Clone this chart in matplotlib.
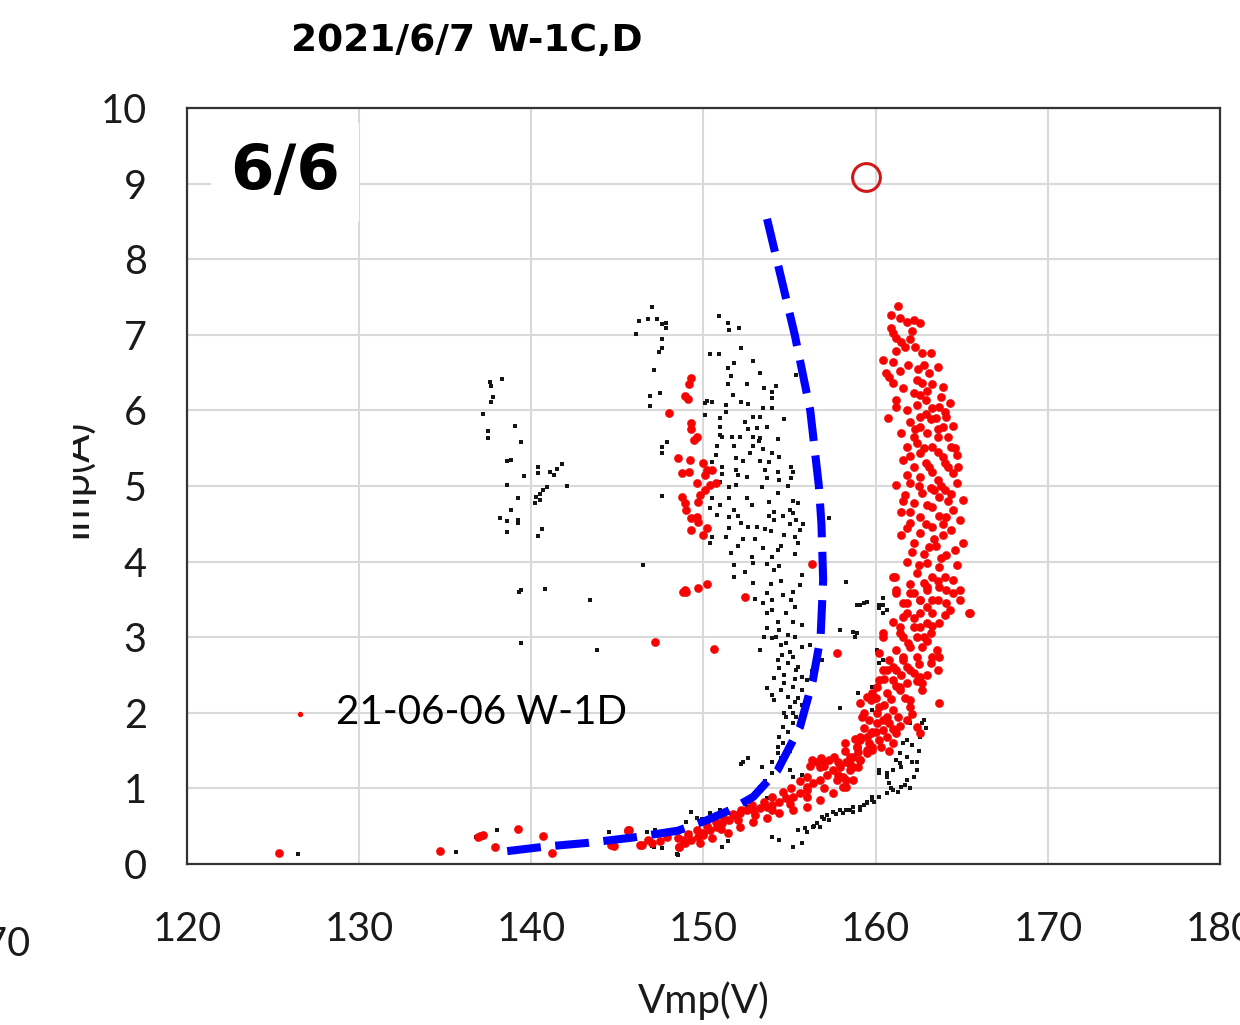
import matplotlib
matplotlib.use("Agg")
import matplotlib.pyplot as plt
from matplotlib.patches import Rectangle

# ---------------- data ----------------
title = "2021/6/7 W-1C,D"
panel_label = "6/6"
legend_label = "21-06-06 W-1D"
x_label = "Vmp(V)"
y_label = "Imp(A)"
x_ticks = [120, 130, 140, 150, 160, 170, 180]
y_ticks = [0, 1, 2, 3, 4, 5, 6, 7, 8, 9, 10]

black_pts = [
    # far-left cluster
    (137.6, 6.38), (138.3, 6.42), (137.65, 6.32), (137.8, 6.18), (137.65, 6.11), (137.2, 5.95),
    (139.05, 5.8), (137.5, 5.73), (137.5, 5.64), (139.4, 5.58), (138.6, 5.33), (138.8, 5.34),
    (140.4, 5.25), (140.4, 5.17), (141.1, 5.19), (141.5, 5.22), (141.8, 5.29), (141.3, 5.15),
    (139.6, 5.13), (142.07, 5.0), (138.6, 5.01), (140.9, 4.99), (140.7, 4.95), (140.5, 4.9),
    (140.3, 4.86), (140.5, 4.81), (140.2, 4.78), (139.2, 4.84), (138.8, 4.68), (138.2, 4.58),
    (138.6, 4.54), (139.2, 4.55), (139.2, 4.51), (138.6, 4.39), (140.6, 4.43), (140.4, 4.34),
    (139.3, 3.6), (139.4, 3.62), (140.8, 3.64), (139.4, 2.92), (143.4, 3.49), (143.8, 2.83),
    (146.5, 3.96),
    # cluster near 147 V
    (147.0, 7.37), (146.25, 7.18), (146.8, 7.21), (147.3, 7.21), (147.6, 7.14), (147.8, 7.09),
    (147.8, 7.15), (146.1, 7.01), (147.6, 6.94), (147.6, 6.83), (147.4, 6.77), (147.1, 6.53),
    (146.9, 6.19), (147.5, 6.23), (146.9, 6.06), (147.6, 5.52), (147.9, 5.58), (147.6, 5.43),
    (147.6, 4.87),
    # main cloud upper
    (150.9, 7.25), (151.5, 7.06), (152.05, 7.09), (151.4, 7.15), (150.4, 6.75), (150.9, 6.75),
    (152.2, 6.83), (152.9, 6.65), (151.8, 6.63), (151.4, 6.56), (151.6, 6.46), (153.3, 6.49),
    (155.4, 6.47), (151.4, 6.35), (152.5, 6.35), (154.2, 6.32), (154.0, 6.24), (154.0, 6.16),
    (150.1, 6.1), (150.2, 6.13), (150.5, 6.11), (152.2, 6.11), (152.6, 6.08), (151.3, 6.07),
    (151.3, 5.98), (153.45, 6.03), (154.0, 6.03), (150.95, 5.9), (152.9, 5.91), (153.3, 5.91),
    (150.1, 5.94), (154.7, 5.89), (150.95, 5.78), (153.1, 5.77), (153.7, 5.78), (152.6, 5.75),
    (150.95, 5.67), (152.9, 5.65), (151.65, 5.65), (152.1, 5.65), (151.05, 5.65), (153.3, 5.63),
    (154.3, 5.62), (150.8, 5.53), (151.8, 5.53), (152.9, 5.53), (153.45, 5.49), (154.0, 5.44),
    (152.7, 5.44), (154.4, 5.38), (150.7, 5.41), (151.9, 5.37), (152.3, 5.33), (150.5, 5.32),
    (153.3, 5.33), (153.8, 5.32), (151.1, 5.25), (155.1, 5.25), (151.9, 5.21), (153.6, 5.21),
    (154.3, 5.19), (155.2, 5.19), (151.1, 5.16), (152.0, 5.15), (152.5, 5.12), (153.7, 5.11),
    (154.4, 5.08), (155.1, 5.11), (150.95, 5.05), (151.9, 5.01), (151.5, 4.99), (153.4, 4.99),
    (154.3, 4.91), (150.5, 4.84), (151.5, 4.84), (152.5, 4.84), (153.8, 4.79), (155.5, 4.78),
    (150.95, 4.75), (150.4, 4.71), (151.8, 4.68), (154.1, 4.66), (155.2, 4.64), (155.0, 4.68),
    (150.8, 4.62), (151.5, 4.59), (154.1, 4.55), (152.2, 4.51), (156.76, 4.55), (157.3, 4.58),
    (152.6, 4.46), (153.1, 4.46), (151.5, 4.44), (153.6, 4.43), (155.6, 4.42), (155.3, 4.33),
    (154.7, 4.35), (150.5, 4.33), (151.3, 4.33), (152.3, 4.30), (155.5, 4.25), (150.4, 4.25),
    (153.45, 4.18), (154.3, 4.15), (151.6, 4.11), (152.8, 4.06), (154.0, 4.06), (151.8, 3.96),
    (152.4, 3.86), (152.9, 3.98), (153.7, 3.97), (154.1, 3.89), (154.4, 3.94), (151.8, 3.80),
    (152.9, 3.72), (155.7, 3.82), (155.6, 3.69), (158.3, 3.73),
    (155.0, 4.5), (155.4, 4.55), (154.6, 4.6), (153.9, 4.4), (152.0, 4.2), (153.0, 4.3),
    (155.2, 4.8), (154.9, 5.0), (153.2, 5.6), (152.4, 5.85), (151.7, 6.2), (153.5, 6.3),
    (152.0, 4.6), (152.8, 4.75), (154.5, 4.2), (155.8, 4.5), (155.3, 4.1), (153.8, 4.6),
    # main cloud lower
    (153.7, 3.58), (154.0, 3.49), (154.6, 3.56), (153.45, 3.45), (155.1, 3.49), (154.0, 3.36),
    (154.8, 3.32), (153.7, 3.32), (154.3, 3.2), (155.2, 3.2), (155.7, 3.16), (153.7, 3.12),
    (154.4, 3.1), (154.9, 3.03), (154.0, 2.99), (154.8, 2.92), (155.7, 2.87), (153.3, 2.83),
    (154.55, 2.76), (155.2, 2.74), (154.9, 2.66), (156.9, 2.70), (156.6, 2.63), (154.4, 2.59),
    (155.4, 2.57), (154.7, 2.50), (155.7, 2.47), (156.0, 2.43), (154.1, 2.46), (153.7, 2.33),
    (155.2, 2.34), (155.7, 2.30), (154.0, 2.24), (154.9, 2.21), (155.3, 2.14), (154.1, 2.17),
    (155.0, 2.08), (155.7, 2.10), (154.8, 1.94), (155.2, 2.0), (154.6, 1.81), (155.2, 1.86),
    (154.4, 1.68), (154.3, 1.55), (154.3, 1.47), (154.0, 1.35), (152.3, 1.35), (152.2, 1.32),
    (153.4, 1.28), (155.7, 1.18), (155.2, 1.15), (156.76, 1.11), (153.3, 1.02), (153.0, 0.94),
    (153.7, 0.87), (152.5, 0.75), (150.95, 0.71), (151.4, 0.67), (150.4, 0.67), (149.3, 0.69),
    (149.6, 0.61), (149.9, 0.6), (149.2, 0.41), (148.6, 0.36), (147.5, 0.28), (147.1, 0.22),
    (148.5, 0.12), (151.1, 0.22), (151.4, 0.3), (154.0, 0.36), (154.4, 0.32), (155.2, 0.22),
    (155.7, 0.28), (155.9, 0.48), (156.35, 0.49), (156.76, 0.49), (156.9, 0.62), (157.2, 0.65),
    (157.5, 0.69), (157.9, 0.71), (158.3, 0.71), (158.7, 0.75), (159.1, 0.75), (159.5, 0.82),
    (159.8, 0.85), (160.2, 0.89), (160.65, 0.94), (161.0, 0.98), (156.0, 0.42), (156.6, 0.54),
    (157.3, 0.58),
    (154.2, 3.0), (154.5, 2.9), (155.0, 2.8), (154.3, 2.7), (155.5, 2.6), (154.7, 2.4),
    (155.3, 2.45), (154.5, 2.3), (155.5, 2.2), (154.7, 2.0), (155.4, 1.95), (154.9, 1.75),
    (154.6, 1.6), (155.0, 1.5), (154.5, 1.4), (154.0, 1.2), (153.6, 1.1), (155.3, 3.4),
    (153.9, 3.7), (154.5, 3.75), (155.2, 3.6), (153.0, 3.5), (153.5, 3.0), (155.3, 3.0),
    (156.2, 2.9), (156.3, 2.55), (155.9, 2.0), (155.0, 1.25), (152.6, 1.4), (149.0, 0.55),
    # right-hand black band
    (159.1, 3.43), (159.5, 3.47), (160.2, 3.43), (158.9, 3.06), (157.9, 3.1), (160.1, 2.83),
    (160.2, 2.66), (160.65, 3.36), (158.97, 2.26), (157.9, 2.06), (160.65, 1.2), (160.2, 1.24),
    (158.9, 3.43), (159.3, 3.45), (160.4, 3.43), (160.4, 3.32), (158.7, 3.07), (158.8, 3.0),
    (160.1, 2.83), (160.4, 2.70), (159.8, 2.34), (159.8, 2.04), (162.0, 1.86), (162.7, 1.86),
    (162.6, 1.68), (161.8, 1.64), (162.1, 1.57), (161.4, 1.47), (161.8, 1.42), (161.2, 1.38),
    (162.1, 1.35), (161.5, 1.28), (162.4, 1.24), (160.2, 1.2), (160.65, 1.15), (161.8, 1.11),
    (160.8, 1.07), (161.5, 1.02), (162.0, 1.0), (160.65, 0.94), (159.8, 0.89), (159.5, 0.81),
    (159.1, 0.71), (158.7, 0.69), (158.1, 0.67), (160.4, 3.52), (160.2, 3.38),
    (161.3, 0.95), (161.7, 1.05), (162.2, 1.15), (162.4, 1.35), (162.5, 1.5), (162.9, 1.8),
    (162.8, 1.9), (161.6, 1.6), (161.0, 1.25), (161.4, 1.33), (160.9, 1.0), (159.9, 0.82),
    (159.3, 0.78), (158.5, 0.72), (157.7, 0.66), (157.0, 0.6), (156.4, 0.5), (155.5, 0.45),
    # bottom strays
    (126.45, 0.13), (135.6, 0.16), (138.0, 0.45), (136.8, 0.36), (144.5, 0.42), (146.7, 0.42),
    (147.2, 0.45), (149.3, 0.69), (147.0, 0.24), (147.6, 0.21), (148.45, 0.13),
]

red_pts = [
    # cluster near 149-150 V
    (149.3, 6.43), (149.15, 6.35), (148.9, 6.19), (149.1, 6.15), (148.0, 5.97), (149.3, 5.83),
    (149.3, 5.75), (149.6, 5.65), (149.45, 5.61), (148.5, 5.37), (149.2, 5.34), (149.97, 5.3),
    (150.2, 5.21), (148.75, 5.17), (149.15, 5.19), (150.1, 5.15), (150.5, 5.21), (149.6, 5.04),
    (150.4, 5.01), (150.7, 5.04), (150.1, 4.95), (149.8, 4.88), (148.75, 4.85), (148.9, 4.78),
    (149.7, 4.79), (149.0, 4.68), (149.6, 4.59), (149.3, 4.58), (149.7, 4.52), (150.2, 4.44),
    (149.3, 4.42), (149.97, 4.35), (156.3, 3.97),
    (148.8, 3.6), (149.0, 3.6), (148.9, 3.62), (149.7, 3.65), (150.2, 3.7), (152.4, 3.53),
    (147.2, 2.94), (150.6, 2.84), (157.75, 2.79),
    # bottom-left strays
    (125.35, 0.14), (134.7, 0.17), (137.2, 0.38), (137.0, 0.37), (136.9, 0.36), (137.9, 0.23),
    (139.2, 0.46), (140.7, 0.37), (141.2, 0.15), (145.6, 0.44), (144.6, 0.25), (144.8, 0.24),
    (146.4, 0.25), (148.6, 0.22), (148.8, 0.32),
    # lower curved band
    (145.7, 0.45), (146.3, 0.25), (147.0, 0.28), (147.9, 0.36), (148.6, 0.22), (148.9, 0.28),
    (149.3, 0.32), (149.7, 0.36), (149.97, 0.41), (150.4, 0.45), (150.8, 0.49), (151.1, 0.54),
    (151.5, 0.58), (151.8, 0.65), (152.1, 0.67), (152.5, 0.71), (152.9, 0.71), (153.3, 0.74),
    (153.7, 0.75), (154.0, 0.78), (154.4, 0.82), (154.8, 0.87), (155.2, 0.89), (155.6, 0.94),
    (156.0, 0.98), (156.35, 1.07), (156.76, 1.11), (157.2, 1.18), (157.5, 1.24), (157.9, 1.28),
    (158.3, 1.35), (158.7, 1.42), (158.9, 1.55), (159.1, 1.64), (159.5, 1.68), (159.8, 1.75),
    (156.3, 1.38), (156.6, 1.35), (156.9, 1.35), (156.76, 1.28), (156.0, 1.02), (157.75, 1.11),
    (158.1, 1.15), (158.5, 1.24), (158.97, 1.28), (159.1, 1.38), (159.5, 1.51), (159.8, 1.55),
    (158.7, 1.11), (158.3, 1.02), (157.5, 0.94), (156.76, 0.85), (156.0, 0.75), (155.2, 0.71),
    (154.4, 0.67), (153.7, 0.61), (152.9, 0.56), (152.1, 0.49), (151.4, 0.41), (150.5, 0.34),
    (149.8, 0.28), (145.6, 0.45), (150.0, 0.38), (151.0, 0.46), (152.0, 0.58), (153.0, 0.65),
    (154.0, 0.71), (155.0, 0.8), (156.0, 0.88), (157.0, 1.0), (157.8, 1.18), (158.5, 1.32),
    (156.2, 1.3), (156.8, 1.4), (157.3, 1.38), (156.0, 1.15), (155.6, 1.1), (155.1, 1.0),
    (154.6, 0.95), (154.0, 0.88), (153.5, 0.82), (152.8, 0.78), (152.2, 0.72), (151.7, 0.66),
    (151.2, 0.6), (150.7, 0.55), (150.2, 0.5), (149.6, 0.45), (149.1, 0.4), (148.5, 0.35),
    (147.5, 0.3), (146.8, 0.32), (157.0, 1.3), (157.8, 1.35), (158.2, 1.5), (157.6, 1.42),
    # rising band
    (158.3, 1.11), (158.1, 1.02), (158.7, 1.28), (159.1, 1.38), (158.5, 1.42), (159.5, 1.47),
    (158.9, 1.55), (159.8, 1.51), (159.1, 1.68), (159.7, 1.73), (160.2, 1.64), (160.65, 1.68),
    (161.0, 1.6), (160.4, 1.77), (161.2, 1.73), (160.1, 1.86), (160.8, 1.86), (161.4, 1.82),
    (159.3, 2.0), (160.1, 2.0), (160.65, 1.94), (161.8, 1.9), (162.4, 1.81), (162.6, 1.73),
    (159.1, 2.13), (159.7, 2.17), (160.2, 2.08), (161.0, 2.04), (162.0, 2.08), (159.8, 2.26),
    (160.65, 2.26), (161.4, 2.30), (162.0, 2.17), (160.2, 2.43), (161.0, 2.43), (161.8, 2.39),
    (162.7, 2.30), (163.7, 2.13), (160.4, 2.57), (161.2, 2.57), (162.0, 2.57), (162.6, 2.47),
    (160.8, 2.70), (161.6, 2.70), (162.4, 2.74), (163.2, 2.66), (163.7, 2.74), (161.2, 2.83),
    (162.0, 2.87), (162.7, 2.87), (163.55, 2.83), (161.6, 3.0), (162.4, 3.0), (163.2, 3.06),
    (161.4, 3.13), (162.2, 3.13), (163.0, 3.19), (163.7, 3.19), (161.6, 3.27), (162.6, 3.32),
    (163.3, 3.32), (161.8, 3.45), (162.6, 3.49), (163.3, 3.49), (164.1, 3.45), (162.2, 3.58),
    (163.0, 3.62), (163.7, 3.66), (164.5, 3.58), (164.9, 3.49), (165.5, 3.32), (161.2, 3.62),
    (160.4, 3.06), (160.2, 2.79), (161.6, 2.74), (163.3, 2.74), (160.65, 2.57), (162.2, 2.53),
    (163.6, 2.57), (160.1, 2.34), (161.4, 2.34), (162.7, 2.39), (159.5, 2.21),
    (161.0, 3.2), (162.8, 3.0), (161.9, 2.92), (163.0, 2.95), (161.0, 2.6), (161.8, 2.6),
    (162.5, 2.65), (160.5, 2.45), (161.5, 2.5), (162.4, 2.42), (160.0, 2.2), (160.9, 2.18),
    (161.7, 2.2), (160.5, 2.1), (161.3, 1.95), (162.1, 1.98), (159.6, 1.9), (160.4, 1.9),
    (159.3, 1.8), (160.0, 1.75), (161.0, 1.78), (158.8, 1.65), (159.6, 1.6), (158.2, 1.6),
    (159.0, 1.48), (160.3, 1.55), (160.8, 1.5), (159.2, 1.95), (161.2, 2.35), (163.0, 2.5),
    # upper column
    (161.3, 7.38), (160.9, 7.26), (161.4, 7.22), (161.8, 7.17), (162.2, 7.2), (162.6, 7.16),
    (160.9, 7.09), (161.0, 7.02), (161.2, 6.96), (161.7, 6.84), (162.3, 6.84), (161.2, 6.79),
    (162.7, 6.76), (163.2, 6.76), (160.4, 6.67), (161.0, 6.64), (161.4, 6.52), (162.45, 6.55),
    (163.6, 6.57), (160.6, 6.49), (160.8, 6.44), (161.0, 6.36), (162.7, 6.36), (163.9, 6.31),
    (162.2, 6.23), (162.6, 6.2), (162.9, 6.14), (161.2, 6.14), (163.8, 6.18), (161.2, 6.05),
    (162.4, 6.07), (163.3, 6.03), (164.0, 5.98), (160.7, 5.9), (162.6, 5.91), (163.2, 5.88),
    (164.1, 5.91), (162.6, 5.78), (163.9, 5.78), (163.0, 5.7), (163.6, 5.65), (164.2, 5.65),
    (161.8, 5.52), (162.4, 5.57), (163.3, 5.52), (164.4, 5.52), (161.6, 5.34), (162.6, 5.44),
    (163.9, 5.38), (164.7, 5.41), (162.2, 5.25), (163.1, 5.25), (164.2, 5.25), (162.6, 5.12),
    (163.6, 5.08), (164.5, 5.17), (161.2, 5.01), (162.0, 5.04), (164.7, 5.04), (161.7, 4.88),
    (162.7, 4.91), (163.7, 4.85), (165.1, 4.81), (162.2, 4.78), (163.3, 4.72), (164.5, 4.68),
    (161.5, 4.66), (162.6, 4.59), (164.1, 4.59), (164.9, 4.55), (162.0, 4.51), (163.3, 4.46),
    (161.5, 4.35), (162.6, 4.38), (163.9, 4.35), (165.1, 4.25), (162.2, 4.25), (163.1, 4.19),
    (162.1, 4.13), (164.1, 4.09), (163.0, 3.98), (163.7, 3.93), (164.7, 3.96), (161.1, 3.8),
    (162.4, 3.85), (163.3, 3.8), (164.5, 3.76), (161.2, 3.58), (162.0, 3.58), (163.0, 3.66),
    (164.1, 3.62), (164.9, 3.62), (165.4, 3.32), (162.6, 3.49), (163.6, 3.49), (161.8, 3.32),
    (164.3, 3.36), (160.4, 3.0), (161.4, 3.06), (162.6, 3.13), (161.0, 3.8), (163.8, 5.0),
    (163.4, 4.95), (162.9, 5.3), (163.5, 5.9), (162.3, 5.75), (163.9, 4.5), (163.5, 4.2),
    (161.5, 6.9), (162.0, 6.95), (161.9, 6.6), (162.8, 6.6), (161.6, 6.3), (162.4, 6.4),
    (163.3, 6.35), (161.8, 6.0), (163.0, 6.25), (163.7, 6.05), (162.0, 5.85), (162.9, 5.95),
    (163.6, 5.75), (164.5, 5.8), (161.5, 5.7), (162.2, 5.65), (162.8, 5.5), (163.6, 5.45),
    (162.0, 5.4), (164.0, 5.3), (161.8, 5.15), (163.3, 5.18), (164.8, 5.25), (162.5, 5.0),
    (163.2, 4.98), (164.0, 4.95), (161.6, 4.8), (163.0, 4.75), (164.2, 4.8), (162.0, 4.65),
    (163.7, 4.6), (162.9, 4.5), (164.4, 4.42), (161.8, 4.45), (163.4, 4.3), (162.8, 4.1),
    (163.8, 4.05), (164.6, 4.15), (161.8, 4.0), (162.5, 3.95), (163.6, 3.75), (162.0, 3.7),
    (162.8, 3.72), (164.0, 3.8), (161.6, 3.45), (163.0, 3.4), (164.0, 3.3), (162.2, 3.25),
    (163.3, 3.15), (164.4, 4.9), (164.6, 5.5), (164.3, 6.1), (163.1, 6.5), (162.1, 7.05),
]

curve_v = [138.6, 140.8, 143.3, 145.9, 148.5, 150.2, 151.5, 152.9, 154.3, 155.6, 156.35,
           156.8, 156.95, 156.85, 156.7, 156.2, 155.3, 153.6]
curve_i = [0.17, 0.23, 0.28, 0.35, 0.44, 0.58, 0.71, 0.89, 1.24, 1.81, 2.43,
           3.0, 3.76, 4.5, 5.0, 6.0, 7.0, 8.62]

circle_v = [159.43]
circle_i = [9.09]

black_v = [p[0] for p in black_pts]
black_i = [p[1] for p in black_pts]
red_v = [p[0] for p in red_pts]
red_i = [p[1] for p in red_pts]

# ---------------- figure ----------------
plt.rcParams['font.family'] = ['Lato', 'DejaVu Sans']
fig = plt.figure(figsize=(12.4, 10.25), dpi=100)
ax = fig.add_axes([187 / 1240, 1 - 864 / 1025, (1220 - 187) / 1240, (864 - 108) / 1025])

ax.set_xlim(120, 180)
ax.set_ylim(0, 10)
ax.set_xticks(x_ticks)
ax.set_yticks(y_ticks)
ax.grid(True, color='#d9d9d9', linewidth=1.5, zorder=0)
ax.set_axisbelow(True)
ax.tick_params(length=0, labelsize=28.5, colors='#1a1a1a')
ax.tick_params(axis='y', pad=29)
ax.tick_params(axis='x', pad=34)
for s in ax.spines.values():
    s.set_color('#333333')
    s.set_linewidth(1.6)

ax.scatter(black_v, black_i, s=12, marker='s', color='#151515', linewidths=0, zorder=3)
ax.scatter(red_v, red_i, s=34, marker='o', color='#ff0000', edgecolors='#dd1111',
           linewidths=0.4, zorder=4)
ax.plot(curve_v, curve_i, color='#0000ff', linewidth=5.8, dashes=(4.2, 1.8),
        solid_capstyle='butt', dash_capstyle='butt', zorder=5)
ax.plot(circle_v, circle_i, marker='o', markersize=20, markerfacecolor='none',
        markeredgecolor='#d01818', markeredgewidth=2.2, linestyle='none', zorder=6)

# legend (only red series shown)
h = ax.scatter([], [], s=8, marker='o', color='#ff0000', label=legend_label)
ax.legend(handles=[h], loc='center left', bbox_to_anchor=(0.092, 0.20), frameon=False,
          fontsize=29, handletextpad=0.45, handlelength=0.9, borderpad=0, borderaxespad=0)

# panel label with white box
ax.text(0.095, 0.915, panel_label, transform=ax.transAxes, fontsize=45, fontweight='bold',
        family='DejaVu Sans', ha='center', va='center', zorder=7,
        bbox=dict(facecolor='white', edgecolor='none', pad=14))

ax.set_xlabel(x_label, fontsize=29, color='#1a1a1a', labelpad=24)

# title
fig.text(467 / 1240, 1 - 41 / 1025, title, fontsize=27, fontweight='bold',
         family='DejaVu Sans', ha='center', va='center')

# partially hidden y label and neighbouring fragment
fig.text(93 / 1240, 1 - 478 / 1025, y_label, rotation=90, fontsize=30, color='#1a1a1a',
         ha='right', va='center')
fig.patches.append(Rectangle((0, 1 - 620 / 1025), 73 / 1240, 280 / 1025,
                             transform=fig.transFigure, facecolor='white', edgecolor='none',
                             zorder=10))
fig.text(31 / 1240, 1 - 945 / 1025, "170", fontsize=28.5, color='#1a1a1a',
         ha='right', va='center')

fig.savefig('out.png', dpi=100)
